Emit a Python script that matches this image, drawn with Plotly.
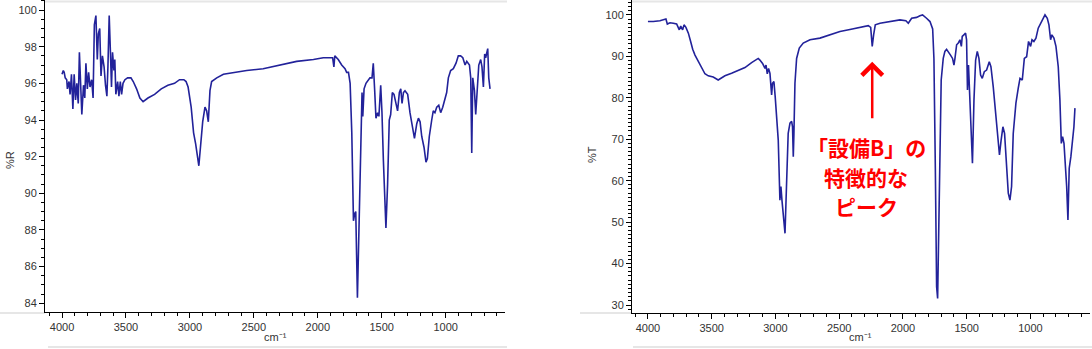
import plotly.graph_objects as go

# ---------------- data ----------------
left_wn = [4000, 3990, 3983, 3975, 3963, 3958, 3945, 3937, 3926, 3915, 3905, 3894, 3884, 3873, 3864,
           3845, 3832, 3822, 3813, 3802, 3792, 3781, 3768, 3757, 3747, 3735, 3724, 3716, 3705, 3695,
           3684, 3671, 3660, 3649, 3641, 3631, 3621, 3613, 3605, 3594, 3587, 3579, 3565, 3555, 3544,
           3534, 3523, 3508, 3487, 3461, 3443, 3417, 3391, 3366, 3328, 3276, 3224, 3172, 3120, 3081,
           3047, 3030, 3014, 2990, 2971, 2955, 2930, 2916, 2900, 2882, 2869, 2856, 2843, 2830, 2790,
           2738, 2660, 2556, 2427, 2296, 2165, 2034, 1957, 1905, 1884, 1874, 1867, 1840, 1813, 1787,
           1774, 1760, 1747, 1734, 1721, 1711, 1703, 1690, 1677, 1664, 1654, 1648, 1638, 1623, 1605,
           1592, 1576, 1566, 1555, 1545, 1532, 1522, 1508, 1498, 1487, 1467, 1454, 1441, 1430, 1417,
           1404, 1389, 1376, 1362, 1351, 1341, 1330, 1318, 1297, 1279, 1257, 1244, 1226, 1213, 1200,
           1187, 1169, 1154, 1143, 1128, 1109, 1097, 1084, 1070, 1054, 1039, 1023, 1005, 992, 979,
           961, 940, 919, 901, 883, 866, 848, 835, 814, 804, 796, 788, 775, 765, 752,
           741, 726, 716, 705, 695, 687, 679, 671, 663, 653]
left_R = [96.5, 96.7, 96.6, 96.3, 96.2, 95.7, 96.1, 95.4, 96.5, 94.6, 96.5, 95.1, 96.0, 94.9, 97.7,
          94.3, 95.9, 95.2, 97.1, 95.7, 96.6, 95.8, 96.2, 95.2, 99.2, 99.7, 97.3, 98.7, 99.0, 96.4,
          97.5, 96.9, 95.9, 95.3, 96.9, 99.7, 97.6, 95.8, 97.7, 96.7, 97.3, 95.4, 96.1, 95.3, 96.1,
          95.4, 96.0, 96.2, 96.3, 96.3, 96.1, 95.7, 95.2, 95.0, 95.2, 95.4, 95.7, 95.9, 96.0, 96.2,
          96.2, 96.1, 95.8, 94.7, 93.3, 92.7, 91.5, 92.5, 93.9, 94.7, 94.5, 93.9, 95.6, 96.1, 96.3,
          96.5, 96.6, 96.7, 96.8, 97.0, 97.2, 97.3, 97.4, 97.4, 97.4, 96.9, 97.5, 97.3, 97.0, 96.8,
          96.6, 96.6, 96.0, 93.3, 88.5, 88.9, 89.0, 84.3, 88.9, 92.9, 95.5, 94.2, 95.7, 96.0, 96.2,
          96.3, 96.3, 97.1, 95.6, 94.1, 94.4, 94.2, 95.9, 94.4, 91.8, 88.1, 90.5, 94.0, 94.3, 95.5,
          95.4, 94.8, 94.5, 95.5, 95.7, 94.9, 95.5, 95.6, 95.4, 94.4, 93.4, 93.0, 93.8, 94.1, 93.9,
          93.1, 92.5, 91.7, 91.9, 93.1, 94.0, 94.5, 94.4, 94.7, 94.8, 94.4, 94.7, 95.1, 95.5, 96.3,
          96.7, 96.8, 97.1, 97.5, 97.5, 97.4, 97.0, 97.2, 97.0, 96.3, 92.2, 96.3, 95.6, 94.3, 95.9,
          97.0, 97.3, 96.9, 95.8, 97.6, 97.4, 97.7, 97.9, 96.3, 95.7]

right_wn = [4000, 3958, 3906, 3880, 3859, 3848, 3827, 3801, 3775, 3754, 3743, 3728, 3717, 3702, 3683,
            3665, 3649, 3631, 3605, 3579, 3553, 3527, 3488, 3449, 3436, 3396, 3344, 3292, 3239, 3187,
            3135, 3122, 3101, 3082, 3074, 3064, 3054, 3043, 3030, 3023, 3012, 3002, 2991, 2978, 2965,
            2957, 2949, 2939, 2925, 2912, 2900, 2886, 2873, 2866, 2860, 2855, 2847, 2834, 2813, 2782,
            2729, 2651, 2573, 2494, 2416, 2337, 2272, 2253, 2241, 2230, 2217, 2180, 2102, 2024, 1977,
            1958, 1932, 1893, 1867, 1846, 1815, 1788, 1767, 1757, 1746, 1736, 1728, 1720, 1710, 1700,
            1684, 1671, 1658, 1645, 1627, 1611, 1600, 1592, 1579, 1566, 1553, 1542, 1535, 1522, 1509,
            1501, 1494, 1486, 1475, 1465, 1455, 1443, 1430, 1417, 1404, 1391, 1378, 1362, 1344, 1323,
            1310, 1292, 1274, 1257, 1243, 1230, 1216, 1203, 1187, 1174, 1161, 1148, 1135, 1114, 1096,
            1082, 1064, 1048, 1030, 1015, 999, 988, 973, 957, 939, 920, 905, 886, 868, 855,
            842, 832, 816, 800, 782, 769, 758, 748, 737, 729, 716, 706, 696, 683, 670,
            659, 651]
right_T = [98.4, 98.4, 98.6, 98.8, 99.0, 97.8, 98.1, 98.0, 97.8, 96.4, 97.3, 96.4, 97.6, 97.0, 95.6,
           93.6, 91.7, 90.3, 88.7, 87.1, 85.8, 85.3, 85.0, 84.3, 84.6, 85.3, 85.9, 86.6, 87.3, 88.5,
           89.5, 89.1, 88.3, 87.1, 87.9, 85.8, 87.1, 85.9, 80.7, 83.5, 83.9, 80.3, 76.3, 69.8, 55.3,
           58.6, 55.3, 52.1, 47.3, 60.0, 71.4, 73.9, 74.3, 73.0, 65.8, 71.4, 83.5, 89.5, 92.0, 93.2,
           94.0, 94.4, 95.2, 96.0, 96.5, 97.0, 97.4, 97.0, 92.4, 95.2, 97.6, 98.0, 98.4, 98.8, 98.6,
           98.0, 99.2, 99.4, 99.8, 100.0, 99.2, 98.4, 96.6, 89.5, 63.0, 34.4, 31.6, 47.3, 67.4, 84.3,
           89.5, 91.2, 91.7, 91.2, 90.3, 89.5, 87.9, 89.5, 92.8, 93.2, 94.0, 92.4, 94.8, 95.2, 95.6,
           94.0, 81.9, 87.9, 79.5, 76.3, 64.2, 79.5, 89.1, 91.2, 89.5, 85.5, 84.7, 86.3, 86.7, 88.7,
           87.5, 82.7, 76.3, 71.4, 66.2, 69.8, 73.0, 71.4, 63.4, 57.0, 55.3, 58.6, 71.4, 78.7, 82.3,
           84.7, 84.3, 89.5, 89.9, 93.6, 92.4, 94.0, 93.6, 94.4, 96.8, 98.0, 99.2, 100.0, 99.2, 97.6,
           94.0, 95.2, 94.4, 92.4, 87.5, 79.5, 69.0, 70.6, 69.0, 65.0, 58.6, 50.5, 63.0, 65.8, 69.0,
           73.0, 77.5]

x_ticks = [4000, 3500, 3000, 2500, 2000, 1500, 1000]
left_y_ticks = [84, 86, 88, 90, 92, 94, 96, 98, 100]
right_y_ticks = [30, 40, 50, 60, 70, 80, 90, 100]

peak_wn = 2241
callout_lines = ["「設備B」の", "特徴的な", "ピーク"]

# ---------------- figure ----------------
W, H = 1092, 349
LINE = "#22229a"
TICKFONT = dict(family="Liberation Sans, Arial, sans-serif", size=11, color="#333333")

fig = go.Figure()
fig.add_trace(go.Scatter(x=left_wn, y=left_R, mode="lines",
                         line=dict(color=LINE, width=1.6), xaxis="x", yaxis="y",
                         showlegend=False, hoverinfo="skip"))
fig.add_trace(go.Scatter(x=right_wn, y=right_T, mode="lines",
                         line=dict(color=LINE, width=1.6), xaxis="x2", yaxis="y2",
                         showlegend=False, hoverinfo="skip"))


def px(v):
    return v / W


def py(v):
    return 1 - v / H


common_x = dict(showgrid=False, zeroline=False, showline=True, linecolor="black", linewidth=1,
                ticks="outside", ticklen=5, tickwidth=1, tickcolor="black",
                tickvals=x_ticks, tickfont=TICKFONT,
                minor=dict(dtick=100, ticks="outside", ticklen=3, tickcolor="black", showgrid=False))
common_y = dict(showgrid=False, zeroline=False, showline=True, linecolor="black", linewidth=1,
                ticks="outside", ticklen=5, tickwidth=1, tickcolor="black", tickfont=TICKFONT)

fig.update_layout(
    width=W, height=H, margin=dict(l=0, r=0, t=0, b=0, autoexpand=False),
    paper_bgcolor="white", plot_bgcolor="white",
    xaxis=dict(domain=[px(45), px(505)], range=[4133, 536], anchor="y", **common_x),
    yaxis=dict(domain=[py(312), 1], range=[83.52, 100.55], anchor="x",
               tickvals=left_y_ticks,
               minor=dict(dtick=0.5, ticks="outside", ticklen=3, tickcolor="black", showgrid=False),
               **common_y),
    xaxis2=dict(domain=[px(632), px(1090)], range=[4125, 533], anchor="y2", **common_x),
    yaxis2=dict(domain=[py(313), 1], range=[28.07, 103.6], anchor="x2",
                tickvals=right_y_ticks,
                minor=dict(dtick=1, ticks="outside", ticklen=3, tickcolor="black", showgrid=False),
                **common_y),
)

title_font = dict(family="Liberation Sans, Arial, sans-serif", size=11, color="#333333")
annotations = [
    dict(text="%R", x=px(10), y=py(160), xref="paper", yref="paper", showarrow=False,
         xanchor="center", yanchor="middle", textangle=-90, font=title_font),
    dict(text="%T", x=px(592), y=py(155), xref="paper", yref="paper", showarrow=False,
         xanchor="center", yanchor="middle", textangle=-90, font=title_font),
    dict(text="cm⁻¹", x=px(275), y=py(337), xref="paper", yref="paper", showarrow=False,
         xanchor="center", yanchor="middle", font=title_font),
    dict(text="cm⁻¹", x=px(860), y=py(337), xref="paper", yref="paper", showarrow=False,
         xanchor="center", yanchor="middle", font=title_font),
    # arrow pointing to the characteristic peak
    dict(text="", x=peak_wn, y=88.7, xref="x2", yref="y2", ax=peak_wn, ay=74.7,
         axref="x2", ayref="y2", showarrow=True, arrowhead=4, arrowsize=1.6,
         arrowwidth=2.5, arrowcolor="#ff0000", standoff=0, startstandoff=0),
]
callout_font = dict(family="Noto Sans CJK JP", size=21, color="#ff0000", weight="bold")
for line_text, ypix in zip(callout_lines, [147, 177, 206]):
    annotations.append(dict(text=line_text, x=px(866), y=py(ypix), xref="paper", yref="paper",
                            showarrow=False, xanchor="center", yanchor="middle",
                            font=callout_font))
fig.update_layout(annotations=annotations)

# light grey frame lines of the original screenshot panels
frame = "#e6e6e6"
shapes = []
for x0, x1, y in [(45, 507, 1.5), (48, 507, 347), (0, 45, 313),
                  (632, 1092, 1.5), (633, 1092, 347), (580, 632, 313)]:
    shapes.append(dict(type="line", xref="paper", yref="paper",
                       x0=px(x0), x1=px(x1), y0=py(y), y1=py(y),
                       line=dict(color=frame, width=2), layer="below"))
fig.update_layout(shapes=shapes)

fig.write_html("out.html", config={"displayModeBar": False},
               post_script="document.body.style.margin='0px';document.body.style.overflow='hidden';")
